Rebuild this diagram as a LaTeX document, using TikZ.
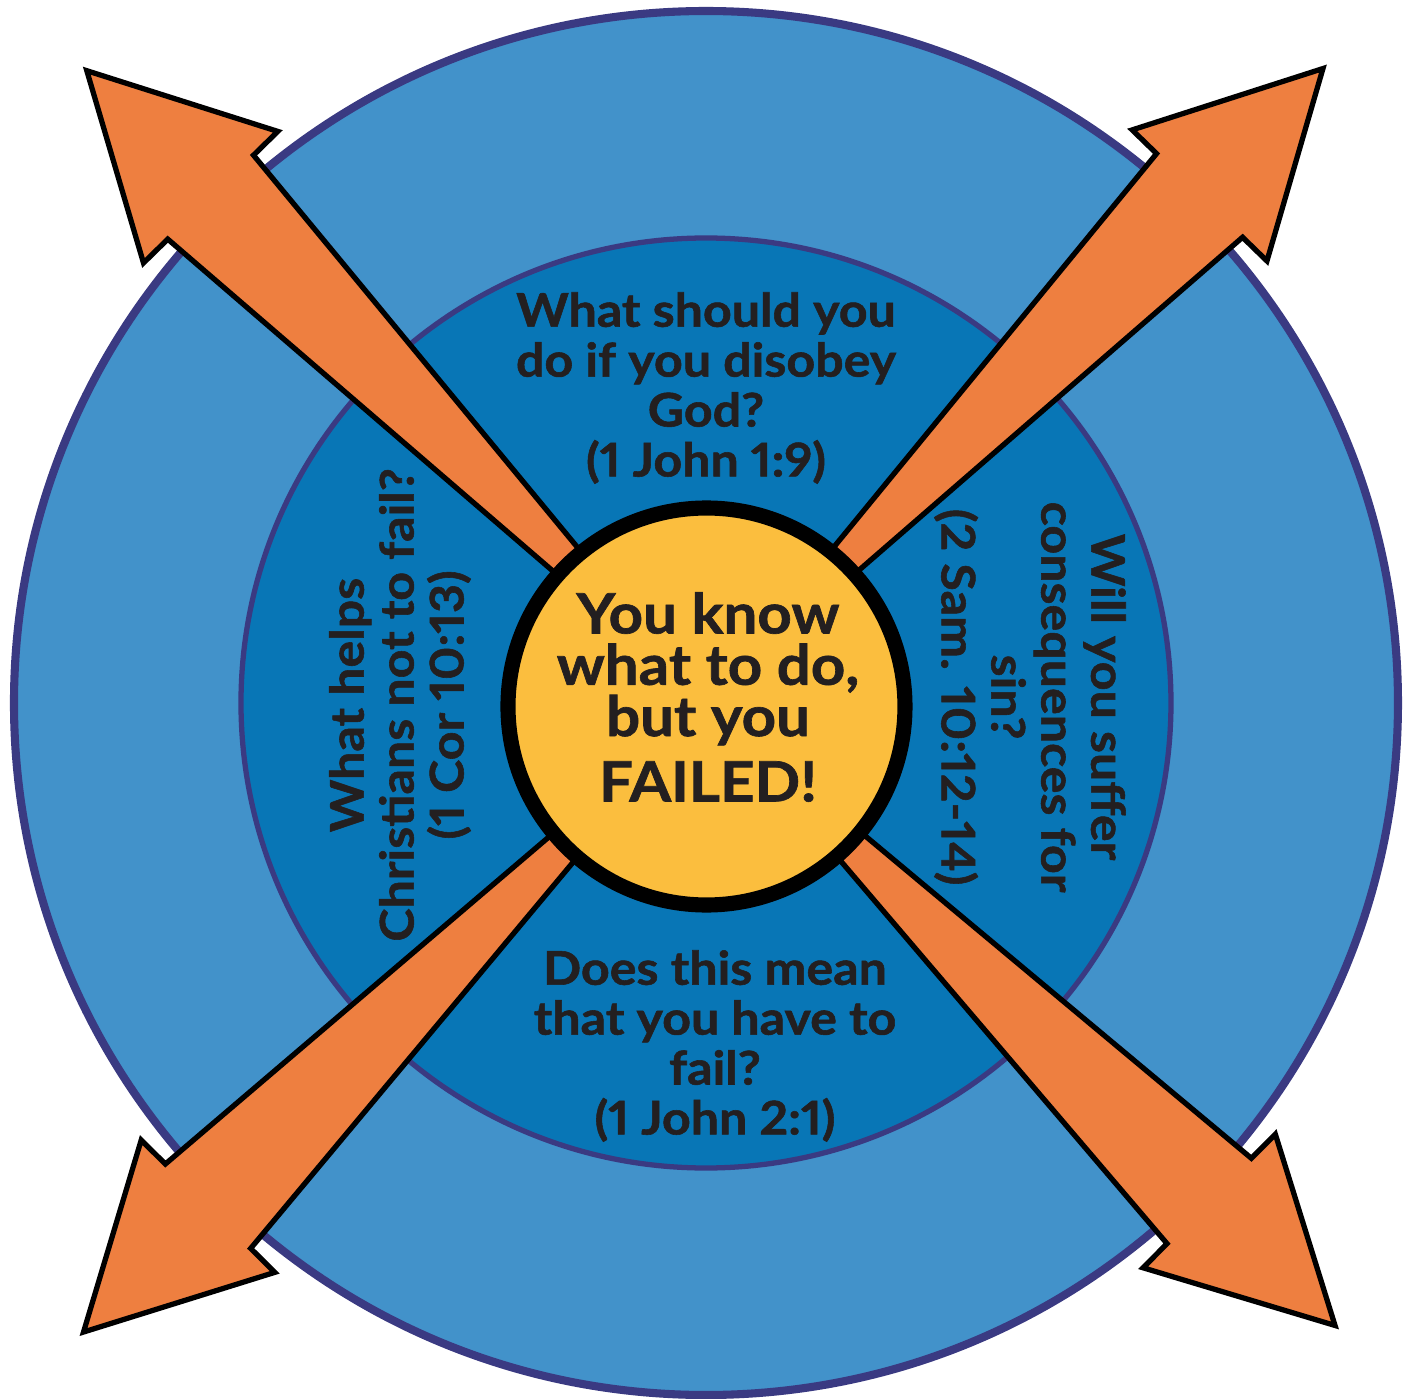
\documentclass[tikz,border=0pt]{standalone}
\usepackage{fontspec}
\setmainfont{Lato}[FakeStretch=1.08, Numbers=Proportional, BoldFeatures={FakeBold=1.2}]
\usetikzlibrary{positioning}
\usepackage{xcolor}

\definecolor{ringblue}{HTML}{4292CA}
\definecolor{innerblue}{HTML}{0876B6}
\definecolor{ringline}{HTML}{3A3A82}
\definecolor{arroworange}{HTML}{EE7F40}
\definecolor{centeryellow}{HTML}{FBBE3E}
\definecolor{textdark}{HTML}{231F20}

\begin{document}
\begin{tikzpicture}[every node/.style={
    align=center,
    inner sep=0pt,
    text=textdark,
    font=\bfseries\fontsize{13.2}{14.2}\selectfont
}]

\useasboundingbox (-7.06,-6.96) rectangle (7.07,7.03);

    \draw[fill=ringblue, draw=ringline, line width=2.3pt] (0,0) circle (6.92);
    \draw[fill=innerblue, draw=ringline, line width=1.5pt] (0,0) circle (4.65);



    \foreach \angle in {45.8, 134.4, 225.3, 315.3}
    {
        \draw[fill=arroworange, line width=1.5pt, line join=miter, rotate=\angle]
            (0,0) -- (7.08,-0.60) -- (7.08,-0.94) -- (8.85,0)
            -- (7.08,0.94) -- (7.08,0.60) -- cycle;
    }

    \draw[fill=centeryellow, line width=4.3pt] (0.005,-0.035) circle (1.985);



    \node (center_text) [shift={(0.02, 0.06)}, font=\bfseries\fontsize{15.8}{14.6}\selectfont]
    {
        You know\\
        what to do,\\
        but you\\[4pt]
        FAILED!
    };

    \node (top_question) [shift={(0, 3.15)}]
    {
        What should you\\
        do if you disobey\\
        God?\\
        (1 John 1:9)
    };

    \node (bottom_question) [shift={(0.09, -3.43)}]
    {
        Does this mean\\
        that you have to\\
        fail?\\
        (1 John 2:1)
    };

    \node (left_question) [shift={(-3.06, -0.02)}, rotate=90]
    {
        What helps\\
        Christians not to fail?\\
        (1 Cor 10:13)
    };

    \node (right_question) [shift={(3.24, 0.06)}, rotate=-90]
    {
        Will you suffer\\
        consequences for\\
        sin?\\
        (2 Sam. 10:12-14)
    };


\end{tikzpicture}
\end{document}
